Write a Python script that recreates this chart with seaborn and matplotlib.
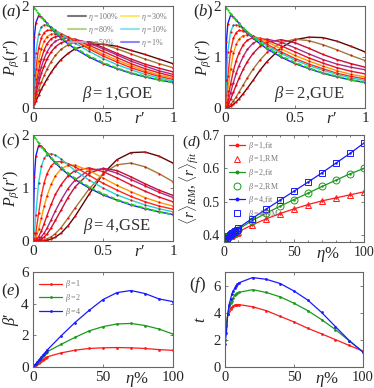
import numpy as np
import pandas as pd
import seaborn as sns
import matplotlib.pyplot as plt
from matplotlib.lines import Line2D

# ---- data: P(r') curves, panels a-c ----
r_grid = [0, .01, .02, .04, .06, .08, .1, .13, .16, .2, .25, .3, .4, .5, .6, .7, .8, .9, 1.0]

poisson = [2.0, 1.96, 1.92, 1.85, 1.78, 1.72, 1.65, 1.57, 1.49, 1.39, 1.28, 1.18, 1.02, .89, .78, .69, .62, .55, .50]

# beta = 1
a_100 = [0, .07, .13, .25, .37, .47, .57, .70, .82, .95, 1.07, 1.16, 1.24, 1.25, 1.21, 1.13, 1.05, .96, .87]
a_80 = [0, .10, .19, .36, .51, .64, .76, .91, 1.03, 1.15, 1.24, 1.29, 1.30, 1.25, 1.16, 1.06, .96, .87, .79]
a_60 = [0, .14, .27, .49, .68, .83, .96, 1.10, 1.20, 1.28, 1.32, 1.33, 1.29, 1.19, 1.07, .96, .86, .78, .71]
a_50 = [0, .18, .34, .60, .81, .97, 1.10, 1.23, 1.31, 1.36, 1.37, 1.35, 1.27, 1.16, 1.04, .92, .82, .73, .66]
a_40 = [0, .23, .43, .74, .97, 1.14, 1.26, 1.36, 1.40, 1.41, 1.38, 1.34, 1.23, 1.11, .99, .87, .77, .69, .62]
a_30 = [0, .30, .56, .93, 1.16, 1.31, 1.40, 1.45, 1.46, 1.44, 1.39, 1.33, 1.19, 1.06, .94, .83, .73, .65, .59]
a_20 = [0, .42, .76, 1.17, 1.38, 1.48, 1.52, 1.53, 1.51, 1.46, 1.39, 1.31, 1.16, 1.02, .90, .79, .70, .62, .56]
a_10 = [0, .65, 1.08, 1.45, 1.59, 1.63, 1.63, 1.59, 1.53, 1.45, 1.36, 1.27, 1.11, .97, .85, .75, .66, .59, .53]
a_1 = [0, 1.40, 1.67, 1.81, 1.79, 1.73, 1.66, 1.56, 1.47, 1.37, 1.26, 1.16, 1.00, .87, .77, .68, .61, .55, .50]

# beta = 2
b_100 = [0, .002, .009, .033, .071, .12, .18, .28, .39, .54, .74, .91, 1.18, 1.34, 1.39, 1.38, 1.31, 1.21, 1.10]
b_80 = [0, .005, .02, .07, .14, .22, .31, .45, .59, .76, .94, 1.09, 1.28, 1.35, 1.32, 1.24, 1.14, 1.03, .93]
b_60 = [0, .015, .05, .17, .31, .45, .58, .76, .91, 1.07, 1.21, 1.29, 1.34, 1.28, 1.17, 1.05, .95, .87, .80]
b_50 = [0, .03, .10, .30, .50, .68, .83, 1.01, 1.15, 1.27, 1.34, 1.35, 1.29, 1.18, 1.06, .95, .86, .80, .75]
b_40 = [0, .06, .18, .47, .73, .93, 1.08, 1.24, 1.33, 1.38, 1.37, 1.33, 1.22, 1.10, .98, .88, .79, .72, .67]
b_30 = [0, .12, .34, .77, 1.07, 1.25, 1.35, 1.42, 1.43, 1.41, 1.36, 1.30, 1.16, 1.03, .92, .82, .73, .66, .61]
b_20 = [0, .25, .62, 1.12, 1.37, 1.48, 1.52, 1.51, 1.47, 1.41, 1.33, 1.25, 1.10, .97, .86, .77, .68, .62, .57]
b_10 = [0, .55, 1.10, 1.50, 1.62, 1.63, 1.61, 1.55, 1.49, 1.41, 1.31, 1.22, 1.07, .94, .83, .74, .66, .59, .54]
b_1 = [0, 1.30, 1.65, 1.82, 1.79, 1.73, 1.66, 1.56, 1.47, 1.37, 1.26, 1.16, 1.00, .87, .77, .68, .61, .55, .50]

# beta = 4
c_100 = [0, 0, 0, 0, .002, .006, .014, .036, .072, .148, .286, .464, .879, 1.265, 1.536, 1.668, 1.679, 1.601, 1.47]
c_80 = [0, 0, 0, .003, .01, .02, .04, .08, .14, .25, .43, .62, .98, 1.27, 1.44, 1.47, 1.40, 1.27, 1.12]
c_60 = [0, 0, .002, .012, .035, .075, .13, .25, .39, .58, .82, 1.02, 1.28, 1.37, 1.33, 1.21, 1.08, .96, .86]
c_50 = [0, .001, .005, .03, .08, .15, .24, .40, .57, .77, .99, 1.15, 1.34, 1.36, 1.28, 1.16, 1.04, .92, .82]
c_40 = [0, .003, .015, .08, .19, .33, .48, .69, .88, 1.06, 1.23, 1.33, 1.38, 1.31, 1.19, 1.06, .94, .83, .74]
c_30 = [0, .01, .05, .22, .44, .66, .85, 1.07, 1.23, 1.36, 1.43, 1.43, 1.33, 1.19, 1.05, .93, .82, .73, .66]
c_20 = [0, .04, .15, .52, .86, 1.10, 1.27, 1.42, 1.49, 1.50, 1.46, 1.40, 1.24, 1.09, .96, .84, .74, .66, .60]
c_10 = [0, .15, .50, 1.10, 1.41, 1.56, 1.63, 1.65, 1.62, 1.55, 1.44, 1.33, 1.15, 1.00, .87, .77, .68, .61, .55]
c_1 = [0, 1.20, 1.60, 1.80, 1.79, 1.73, 1.66, 1.56, 1.47, 1.37, 1.26, 1.16, 1.00, .87, .77, .68, .61, .55, .50]

curve_keys = ['100', '80', '60', '50', '40', '30', '20', '10', '1']
curve_colors = ['#5a0808', '#a07a36', '#c0123a', '#a0308e', '#e01830', '#ff9800', '#ff2a1a', '#22d4d4', '#1a1aff']

# ---- data: panels d-f ----
eta = [0, 1, 2, 3, 4, 5, 6, 7, 8, 9, 10, 20, 30, 40, 50, 60, 70, 80, 90, 100]

r_b1 = [.386, .389, .392, .394, .397, .399, .402, .404, .406, .408, .410, .431, .449, .465, .479, .492, .503, .512, .521, .530]
r_b2 = [.386, .390, .393, .396, .399, .402, .405, .408, .411, .414, .417, .444, .466, .487, .507, .526, .546, .565, .584, .600]
r_b4 = [.386, .390, .393, .397, .400, .404, .407, .410, .414, .417, .421, .450, .478, .505, .532, .559, .587, .616, .645, .676]

bp_b1 = [0, .07, .14, .21, .28, .34, .41, .47, .53, .59, .64, .89, 1.06, 1.17, 1.21, 1.23, 1.21, 1.17, 1.10, 1.05]
bp_b2 = [0, .09, .19, .28, .38, .48, .57, .67, .77, .86, .96, 1.43, 1.87, 2.28, 2.55, 2.72, 2.75, 2.62, 2.40, 2.08]
bp_b4 = [0, .10, .20, .31, .42, .53, .63, .74, .85, .95, 1.06, 1.96, 2.81, 3.57, 4.26, 4.70, 4.83, 4.64, 4.30, 4.13]

t_b1 = [2.0, 3.1, 3.9, 4.1, 4.3, 4.4, 4.5, 4.55, 4.6, 4.6, 4.6, 4.44, 4.15, 3.73, 3.32, 2.85, 2.44, 2.02, 1.59, 1.17]
t_b2 = [2.0, 3.0, 3.9, 4.4, 4.7, 4.9, 5.1, 5.3, 5.4, 5.45, 5.5, 5.7, 5.49, 5.17, 4.7, 4.15, 3.49, 2.76, 1.93, 1.1]
t_b4 = [1.7, 2.5, 3.9, 4.6, 5.0, 5.4, 5.6, 5.8, 6.0, 6.1, 6.2, 6.59, 6.46, 6.15, 5.6, 4.93, 4.02, 2.98, 1.95, 1.1]

beta_colors = ['#ff1a1a', '#1a9a1a', '#1a1aff']

sns.set_style('ticks')
plt.rcParams['font.family'] = ['Liberation Serif', 'DejaVu Serif']
plt.rcParams['mathtext.fontset'] = 'custom'
plt.rcParams['mathtext.rm'] = 'Liberation Serif'
plt.rcParams['mathtext.it'] = 'Liberation Serif:italic'
plt.rcParams['mathtext.bf'] = 'Liberation Serif:bold'

W, H = 374, 388
fig = plt.figure(figsize=(W / 100, H / 100), dpi=100)


def px_axes(left, right, top, bottom):
    return fig.add_axes([left / W, 1 - bottom / H, (right - left) / W, (bottom - top) / H])


def style(ax, size=11):
    for s in ax.spines.values():
        s.set_color('#666666')
        s.set_linewidth(0.8)
    ax.tick_params(direction='in', length=2.5, width=0.6, color='#666666',
                   top=True, right=True, labelsize=size, pad=3)


def dist_panel(ax, curves, text, letter):
    for key, col in zip(curve_keys, curve_colors):
        sns.lineplot(x=r_grid, y=curves[key], ax=ax, color=col, lw=1.0, sort=False,
                     marker='o', markersize=1.6, markerfacecolor='red',
                     markeredgecolor='red', markeredgewidth=0)
    sns.lineplot(x=r_grid, y=poisson, ax=ax, color='#22cc22', lw=1.3, sort=False,
                 linestyle=(0, (2.5, 1.5)), marker='o', markersize=1.6,
                 markerfacecolor='#22cc22', markeredgecolor='#22cc22', markeredgewidth=0)
    ax.set_xlim(0, 1)
    ax.set_ylim(0, 2)
    ax.set_xticks([0, 0.5, 1])
    ax.set_xticklabels(['0', '0.5', '1'])
    ax.set_yticks([0, 1, 2])
    ax.set_ylabel("$P_\\beta(r\u2032)$", fontsize=11.5, labelpad=0)
    ax.set_xlabel("$r\u2032$", fontsize=12)
    ax.xaxis.set_label_coords(0.76, -0.03)
    ax.text(0.6, 0.14, text, transform=ax.transAxes, ha='center', va='center',
            fontsize=12, color='#333333')
    ax.text(-0.23, 0.94, letter, transform=ax.transAxes, ha='left', va='center', fontsize=12)
    style(ax)


ax_a = px_axes(33, 173, 6, 108)
dist_panel(ax_a, dict(zip(curve_keys, [a_100, a_80, a_60, a_50, a_40, a_30, a_20, a_10, a_1])),
           r'$\beta=1$,GOE', r'$(a)$')
leg_cols = ['#7a7a7a', '#b5d68a', '#c49ac6', '#ffe96a', '#8ee6e6', '#8a8aff']
leg_labels = [r'$\eta=100\%$', r'$\eta=80\%$', r'$\eta=50\%$', r'$\eta=30\%$', r'$\eta=10\%$', r'$\eta=1\%$']
handles = [Line2D([], [], color=c, lw=1.5) for c in leg_cols]
ax_a.legend(handles, leg_labels, ncol=2, loc='upper right', fontsize=5.8, frameon=False,
            handlelength=2.3, handletextpad=0.2, columnspacing=0.2, labelspacing=0.15,
            borderaxespad=0.2, labelcolor='#777777')

ax_b = px_axes(225, 365, 6, 108)
dist_panel(ax_b, dict(zip(curve_keys, [b_100, b_80, b_60, b_50, b_40, b_30, b_20, b_10, b_1])),
           r'$\beta=2$,GUE', r'$(b)$')

ax_c = px_axes(33, 173, 135, 241)
dist_panel(ax_c, dict(zip(curve_keys, [c_100, c_80, c_60, c_50, c_40, c_30, c_20, c_10, c_1])),
           r'$\beta=4$,GSE', r'$(c)$')

# ---- (d) mean r ----
ax_d = px_axes(224, 364, 135, 242)
rm_markers = ['^', 'o', 's']
d_handles, d_labels = [], []
for yv, col, mk, b in zip([r_b1, r_b2, r_b4], beta_colors, rm_markers, ['1', '2', '4']):
    sns.lineplot(x=eta, y=yv, ax=ax_d, color=col, lw=0.9, sort=False, marker='o',
                 markersize=1.8, markeredgewidth=0, markerfacecolor=col)
    sns.lineplot(x=eta, y=yv, ax=ax_d, color=col, linestyle='none', sort=False, marker=mk,
                 markersize=5, markerfacecolor='none', markeredgecolor=col, markeredgewidth=0.7)
    d_handles += [Line2D([], [], color=col, lw=0.9, marker='o', markersize=1.8),
                  Line2D([], [], color=col, ls='none', marker=mk, markersize=5,
                         markerfacecolor='none', markeredgewidth=0.7)]
    d_labels += [rf'$\beta={b}$,fit', rf'$\beta={b}$,RM']
ax_d.set_xlim(0, 100)
ax_d.set_ylim(0.38, 0.7)
ax_d.set_xticks([0, 50, 100])
ax_d.set_xticks(range(0, 101, 10), minor=True)
ax_d.set_yticks([0.4, 0.5, 0.6, 0.7])
ax_d.set_ylabel(r'$\langle r\rangle_{RM},\langle r\rangle_{fit}$', fontsize=11, labelpad=1)
ax_d.set_xlabel(r'$\eta\%$', fontsize=12)
ax_d.xaxis.set_label_coords(0.74, -0.03)
ax_d.legend(d_handles, d_labels, loc='upper left', fontsize=5.8, frameon=False,
            handlelength=2.0, handletextpad=0.4, labelspacing=0.2, borderaxespad=0.2,
            labelcolor='#777777')
ax_d.text(-0.30, 0.93, r'$(d)$', transform=ax_d.transAxes, ha='left', va='center', fontsize=11)
style(ax_d, size=10)
ax_d.tick_params(which='minor', direction='in', length=1.5, color='#666666', top=True)

# ---- (e) beta' ----
ax_e = px_axes(33, 173, 272, 367)
for yv, col, b in zip([bp_b1, bp_b2, bp_b4], beta_colors, ['1', '2', '4']):
    sns.lineplot(x=eta, y=yv, ax=ax_e, color=col, lw=0.9, sort=False, marker='o',
                 markersize=2, markeredgewidth=0, markerfacecolor=col, label=rf'$\beta={b}$')
ax_e.set_xlim(0, 100)
ax_e.set_ylim(0, 6)
ax_e.set_xticks([0, 50, 100])
ax_e.set_yticks([0, 2, 4, 6])
ax_e.set_ylabel("$\\beta\u2032$", fontsize=12, labelpad=0)
ax_e.set_xlabel(r'$\eta\%$', fontsize=12)
ax_e.xaxis.set_label_coords(0.74, -0.03)
ax_e.legend(loc='upper left', fontsize=5.8, frameon=False, handlelength=2.8,
            handletextpad=0.4, labelspacing=0.2, borderaxespad=0.4, labelcolor='#777777')
ax_e.text(-0.23, 0.8, r'$(e)$', transform=ax_e.transAxes, ha='left', va='center', fontsize=12)
style(ax_e)

# ---- (f) t ----
ax_f = px_axes(225, 363, 272, 367)
for yv, col in zip([t_b1, t_b2, t_b4], beta_colors):
    sns.lineplot(x=eta, y=yv, ax=ax_f, color=col, lw=0.9, sort=False, marker='o',
                 markersize=2, markeredgewidth=0, markerfacecolor=col)
ax_f.set_xlim(0, 100)
ax_f.set_ylim(0, 7)
ax_f.set_xticks([0, 50, 100])
ax_f.set_yticks([0, 2, 4, 6])
ax_f.set_ylabel(r'$t$', fontsize=12, labelpad=3)
ax_f.set_xlabel(r'$\eta\%$', fontsize=12)
ax_f.xaxis.set_label_coords(0.74, -0.03)
ax_f.text(-0.26, 0.86, r'$(f)$', transform=ax_f.transAxes, ha='left', va='center', fontsize=12)
style(ax_f, size=10.5)

fig.savefig('out.png', dpi=100)
